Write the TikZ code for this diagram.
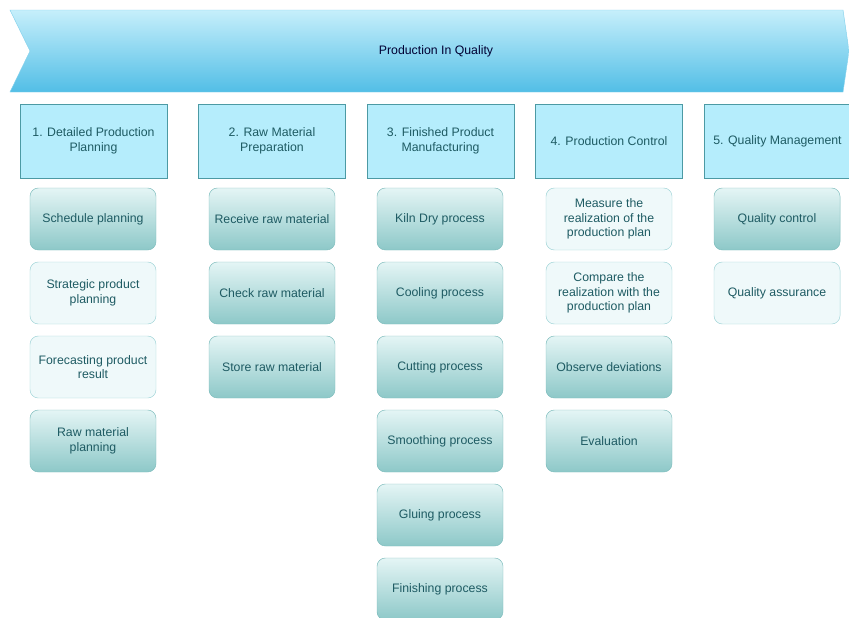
\documentclass[tikz,border=0pt]{standalone}
\usepackage{fontspec}
\usepackage{xcolor}
\usepackage{tikz}
\setmainfont{Liberation Sans}
\definecolor{bannertop}{HTML}{C6EFFB}
\definecolor{bannerbottom}{HTML}{52BEE6}
\definecolor{bannerline}{HTML}{86D2EC}
\definecolor{headfill}{HTML}{B5EDFC}
\definecolor{headline}{HTML}{4C9AA4}
\definecolor{tealtop}{HTML}{E4F5F5}
\definecolor{tealbottom}{HTML}{8DC8C8}
\definecolor{tealline}{HTML}{7DBCBC}
\definecolor{palefill}{HTML}{EFF9FA}
\definecolor{paleline}{HTML}{9ED3D6}
\definecolor{darkteal}{HTML}{1E5B63}

\begin{document}
\begin{tikzpicture}[x=0.03cm, y=-0.03cm,
			font=\fontsize{10.5}{12.6}\selectfont,
			phase/.style = {draw = headline, fill = headfill, minimum width = 4.41cm, minimum height = 2.22cm, align = center, text = darkteal, inner sep = 1pt},
			task/.style = {draw = tealline, rounded corners = 0.25cm, top color = tealtop, bottom color = tealbottom, minimum width = 3.78cm, minimum height = 1.86cm, align = center, text = darkteal, inner sep = 1pt},
			taskpale/.style = {task, top color = palefill, bottom color = palefill, draw = paleline}]
			\useasboundingbox (0,0) rectangle (849,617);
			\clip (0,0) rectangle (849,617);
			
			% banner
			\draw[bannerline, top color = bannertop, bottom color = bannerbottom] (10,10) -- (843,10) -- (849,51) -- (843,92) -- (10,92) -- (30,51) -- cycle;
			\node[text = black!80!blue] (banner) at (436,51) {Production In Quality};
			
			% phases
			\node[phase] (p1) at (93.5,141) {1. Detailed Production\\Planning};
			\node[phase] (p2) at (272,141) {2. Raw Material\\Preparation};
			\node[phase] (p3) at (440.5,141) {3. Finished Product\\Manufacturing};
			\node[phase] (p4) at (609,141) {4. Production Control};
			\node[phase] (p5) at (777.5,141) {5. Quality Management};
			
			% tasks
			\node[task] (t11) at (93,219) {Schedule planning};
			\node[taskpale] (t12) at (93,293) {Strategic product\\planning};
			\node[taskpale] (t13) at (93,367) {Forecasting product\\result};
			\node[task] (t14) at (93,441) {Raw material\\planning};
			
			\node[task] (t21) at (272,219) {Receive raw material};
			\node[task] (t22) at (272,293) {Check raw material};
			\node[task] (t23) at (272,367) {Store raw material};
			
			\node[task] (t31) at (440,219) {Kiln Dry process};
			\node[task] (t32) at (440,293) {Cooling process};
			\node[task] (t33) at (440,367) {Cutting process};
			\node[task] (t34) at (440,441) {Smoothing process};
			\node[task] (t35) at (440,515) {Gluing process};
			\node[task] (t36) at (440,589) {Finishing process};
			
			\node[taskpale] (t41) at (609,219) {Measure the\\realization of the\\production plan};
			\node[taskpale] (t42) at (609,293) {Compare the\\realization with the\\production plan};
			\node[task] (t43) at (609,367) {Observe deviations};
			\node[task] (t44) at (609,441) {Evaluation};
			
			\node[task] (t51) at (777,219) {Quality control};
			\node[taskpale] (t52) at (777,293) {Quality assurance};
			
\end{tikzpicture}
\end{document}
